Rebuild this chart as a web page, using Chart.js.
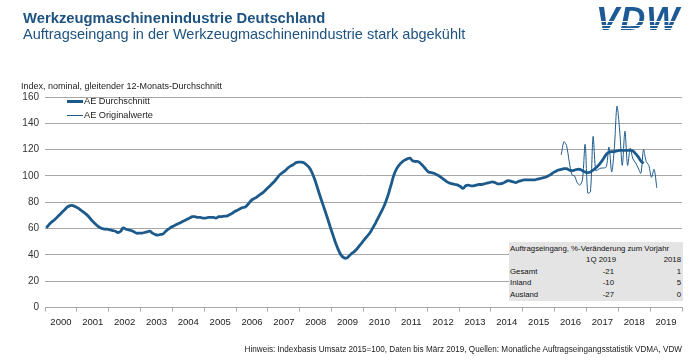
<!DOCTYPE html>
<html>
<head>
<meta charset="utf-8">
<script src="https://cdn.jsdelivr.net/npm/chart.js@4"></script>
<style>
  html, body { margin: 0; padding: 0; background: #fff; }
  body { width: 700px; height: 360px; position: relative; overflow: hidden; font-family: "Liberation Sans", Arial, sans-serif; }
  #wrap { position: absolute; left: 0; top: 0; width: 700px; height: 360px; }
  .t1 { position: absolute; left: 23px; top: 10px; font-size: 14.8px; font-weight: bold; color: #1d5281; white-space: nowrap; }
  .t2 { position: absolute; left: 23px; top: 26px; font-size: 14.5px; color: #1d5281; white-space: nowrap; }
  .unit { position: absolute; left: 21px; top: 81px; font-size: 9px; color: #222; white-space: nowrap; }
  .logo { position: absolute; left: 596px; top: 2px; width: 92px; height: 34px; }
  .logo span { position: absolute; left: 0; top: 0; font-size: 33px; font-weight: 900; font-style: italic; color: #1d5a95; letter-spacing: 1px; line-height: 34px; transform: scaleX(1.05); transform-origin: left top; }
  .stripe { position: absolute; left: 0; width: 92px; height: 1.3px; background: #fff; }
  .legend { position: absolute; left: 67px; font-size: 9.2px; color: #222; white-space: nowrap; }
  .legend i { display: inline-block; width: 16px; vertical-align: middle; background: #1c5a8c; margin-right: 1px; }
  .tbl { position: absolute; left: 509px; top: 242px; width: 174px; height: 59px; background: #e4e4e4; font-size: 7.8px; color: #111; }
  .tbl div { position: absolute; white-space: nowrap; }
  .foot { position: absolute; right: 18px; top: 345px; font-size: 8.15px; color: #222; white-space: nowrap; }
</style>
</head>
<body>
<div id="wrap"><canvas id="c" width="700" height="360"></canvas></div>
<div class="t1">Werkzeugmaschinenindustrie Deutschland</div>
<div class="t2">Auftragseingang in der Werkzeugmaschinenindustrie stark abgekühlt</div>
<div class="logo"><span>VDW</span>
  <div class="stripe" style="top:19px"></div>
  <div class="stripe" style="top:22.5px"></div>
  <div class="stripe" style="top:26px"></div>
</div>
<div class="unit">Index, nominal, gleitender 12-Monats-Durchschnitt</div>
<div class="legend" style="top:96px"><i style="height:3px"></i>AE Durchschnitt</div>
<div class="legend" style="top:110px"><i style="height:1px"></i>AE Originalwerte</div>
<div class="tbl" id="tbl"></div>
<div class="foot">Hinweis: Indexbasis Umsatz 2015=100, Daten bis März 2019, Quellen: Monatliche Auftragseingangsstatistik VDMA, VDW</div>
<script>
// ---- data ----
const years = ['2000','2001','2002','2003','2004','2005','2006','2007','2008','2009','2010','2011','2012','2013','2014','2015','2016','2017','2018','2019'];
// 12-month moving average, monthly from Jan 2000
const avgStart = 0;
const avgValues = [
  60.5,63,65,66.5,68.5,70.5,72.5,74.5,76.5,77.5,77.5,76.5,
  75.5,74,72.5,71,69,66.5,64.5,62.5,61,60,59.5,59.5,
  59,58.5,58,57,58,60.5,59.5,59,58.5,57.5,56.5,56.5,
  56.5,57,57.5,58,56.5,55.5,55,55.5,56,58,59.5,61,
  62,63,64,65,66,67,68,69,69,68.5,68.5,68,
  68,68.5,68.5,68.5,68,69,69,69.5,69.5,70.5,71.5,73,
  74,75,76,76.5,78.5,81,82.5,83.5,85,86.5,88,90,
  92,94,96,98.5,101,102.5,104,106,107.5,108.5,110,110.5,
  110.5,110,108.5,106.5,103,98,92,85.5,79.5,73.5,67.5,61,
  55,49,44,40,38,37.5,39,41,42.5,44.5,47,49.5,
  52,54.5,57,60.5,64,68,72,76,81,87,94,101,
  105.5,108.5,110.5,112,113,113.5,111.5,111,111,109.5,107.5,105,
  103,102.5,102,101,100,98.5,97,95.5,94.5,94,93.5,93,
  92,90.5,92.5,93,92.5,92.5,93,93.5,93.5,94,94.5,95,
  95.5,95,94,94,94.5,95.5,96.5,96,95.5,95,96,96.5,
  97,97,97,97,97,97.5,98,98.5,99,100,101,102.5,
  103.5,104.5,105,105.5,105.5,104.5,104,104.5,105,105,104,103,
  102.5,103,104.5,106,108,110.5,113.5,116.5,118,118.5,118.5,119,
  119.5,119.5,119.5,119.5,119.5,119,117,114.5,111.5,109.5
];
// original monthly values, from Mar 2016 (month index 194) to Mar 2019
const origStart = 194;
const origValues = [
  116,126,123,111,101,100,95,93,97,124,87,88,
  130,104,105,106,106,107,122,103,121,153,135,108,
  134,108,121,113,110,106,102,120,111,108,99,105,91
];
const tableTitle = 'Auftragseingang, %-Veränderung zum Vorjahr';
const tableCols = ['1Q 2019', '2018'];
const tableRows = ['Gesamt', 'Inland', 'Ausland'];
const tableQ1 = [-21, -10, -27];
const table2018 = [1, 5, 0];

// ---- table ----
(function(){
  const t = document.getElementById('tbl');
  function add(txt, style){ const d = document.createElement('div'); d.textContent = txt; d.setAttribute('style', style); t.appendChild(d); }
  add(tableTitle, 'left:1px;top:1.5px');
  add(tableCols[0], 'right:67px;top:13px');
  add(tableCols[1], 'right:2px;top:13px');
  tableRows.forEach((r,i)=>{
    const top = 24.5 + i*11.7;
    add(r, 'left:1px;top:'+top+'px');
    add(String(tableQ1[i]), 'right:69px;top:'+top+'px');
    add(String(table2018[i]), 'right:2px;top:'+top+'px');
  });
})();

// ---- chart ----
Chart.defaults.font.family = '"Liberation Sans", Arial, sans-serif';
const lineColor = '#1c5a8c';
const gridColor = '#a8a8a8';
const avgData = avgValues.map((v,i)=>({x: avgStart + i + 0.5, y: v}));
const origData = origValues.map((v,i)=>({x: origStart + i + 0.5, y: v}));
const tickPositions = [];
for (let i = 0; i <= years.length * 12; i += 6) tickPositions.push(i);

new Chart(document.getElementById('c'), {
  type: 'line',
  data: {
    datasets: [
      { label: 'AE Durchschnitt', data: avgData, borderColor: lineColor, borderWidth: 2.8, pointRadius: 0, tension: 0.4, fill: false },
      { label: 'AE Originalwerte', data: origData, borderColor: lineColor, borderWidth: 1, pointRadius: 0, tension: 0.3, fill: false }
    ]
  },
  options: {
    responsive: false,
    animation: false,
    layout: { padding: { left: 0, right: 18, top: 97, bottom: 24.5 } },
    plugins: { legend: { display: false }, tooltip: { enabled: false } },
    scales: {
      x: {
        type: 'linear', min: 0, max: years.length * 12,
        afterBuildTicks: s => { s.ticks = tickPositions.map(v => ({ value: v })); },
        afterFit: s => { s.height = 28; },
        ticks: {
          autoSkip: false, maxRotation: 0, minRotation: 0, padding: 5,
          color: '#222', font: { size: 9.5 },
          callback: v => (v % 12 === 6 ? years[(v - 6) / 12] : '')
        },
        grid: {
          drawOnChartArea: false, drawTicks: true, tickLength: 4,
          tickColor: ctx => (ctx.tick && ctx.tick.value % 12 === 0 ? gridColor : 'rgba(0,0,0,0)')
        },
        border: { display: true, color: gridColor }
      },
      y: {
        min: 0, max: 160,
        afterFit: s => { s.width = 45; },
        ticks: { stepSize: 20, padding: 6, color: '#333', font: { size: 10 } },
        grid: { color: gridColor, drawTicks: false },
        border: { display: false }
      }
    }
  }
});
</script>
</body>
</html>
